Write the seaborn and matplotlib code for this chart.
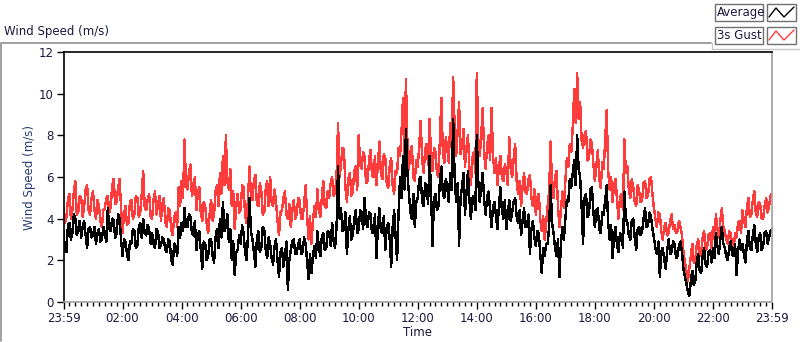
import numpy as np
import pandas as pd
import matplotlib
matplotlib.use("Agg")
import matplotlib.pyplot as plt
import seaborn as sns
from matplotlib.lines import Line2D
from matplotlib.patches import Rectangle

# ---------------- data (3-minute samples, 23:59 -> 23:59) ----------------
gust = [
    4.5, 3.8, 4.1, 4.9, 5.2, 4.0, 4.4, 5.3, 5.8, 4.2, 4.3, 5.1, 5.0, 4.1, 4.6, 5.4, 5.6, 4.4, 4.2, 5.0,
    5.3, 4.4, 4.0, 4.9, 4.6, 3.9, 3.6, 4.4, 4.5, 5.0, 5.1, 4.3, 4.6, 5.6, 5.9, 4.7, 4.8, 5.5, 5.9, 4.5,
    3.3, 4.2, 4.6, 3.7, 3.8, 4.8, 4.9, 4.0, 4.2, 5.1, 5.0, 4.1, 4.3, 5.2, 6.3, 4.6, 4.4, 4.9, 5.2, 4.1,
    4.0, 4.9, 5.3, 4.2, 4.6, 5.1, 3.9, 4.7, 5.0, 3.8, 3.6, 4.5, 4.4, 3.5, 3.2, 4.1, 4.3, 3.6, 5.5, 4.6,
    5.8, 5.0, 7.8, 5.6, 5.4, 6.2, 6.6, 5.1, 5.3, 6.0, 4.4, 5.2, 5.5, 4.3, 3.9, 4.8, 4.6, 3.8, 3.3, 4.2,
    4.9, 3.9, 4.2, 5.3, 5.6, 4.6, 6.2, 5.2, 7.0, 5.6, 8.0, 5.8, 5.4, 6.4, 4.6, 5.3, 3.5, 4.6, 5.2, 4.3,
    4.4, 5.6, 5.5, 4.2, 3.8, 5.0, 6.5, 5.1, 4.9, 5.8, 6.1, 4.7, 4.6, 5.7, 5.3, 4.2, 4.3, 5.4, 5.8, 4.6,
    6.0, 4.8, 4.6, 5.4, 4.8, 3.9, 3.2, 4.3, 4.4, 5.0, 5.3, 4.2, 4.0, 4.7, 3.6, 4.4, 4.9, 4.0, 4.2, 5.0,
    4.9, 4.0, 4.0, 4.7, 5.6, 4.2, 3.0, 4.1, 2.8, 3.9, 4.6, 4.1, 5.4, 4.4, 4.1, 5.0, 5.8, 4.6, 4.5, 5.3,
    5.0, 5.7, 6.0, 5.1, 5.2, 6.1, 8.6, 6.0, 6.6, 7.4, 7.3, 5.5, 4.8, 5.9, 6.2, 5.1, 5.3, 6.3, 6.5, 5.4,
    8.0, 6.6, 6.4, 7.2, 7.0, 5.7, 5.8, 6.8, 7.3, 6.1, 6.0, 7.0, 5.6, 6.6, 7.7, 6.2, 5.9, 7.1, 6.9, 5.7,
    5.5, 6.5, 6.9, 5.6, 5.2, 6.3, 6.2, 7.4, 7.0, 8.2, 9.8, 7.0, 10.7, 7.6, 6.4, 7.2, 7.5, 6.0, 5.8, 6.8,
    6.5, 7.5, 8.7, 6.8, 6.2, 7.3, 7.6, 6.6, 8.8, 7.0, 6.3, 7.4, 7.2, 6.2, 6.0, 7.8, 9.8, 7.2, 6.7, 7.9,
    7.4, 6.7, 8.6, 7.8, 10.8, 8.4, 7.0, 8.2, 9.6, 7.1, 7.5, 8.3, 6.5, 7.4, 8.0, 6.4, 5.6, 6.9, 7.2, 6.2,
    11.0, 7.8, 7.0, 8.0, 9.3, 7.1, 6.4, 7.5, 8.0, 6.8, 9.3, 7.0, 6.2, 6.9, 5.6, 6.5, 7.0, 6.0, 5.8, 6.6,
    6.3, 5.6, 7.9, 6.4, 6.0, 6.9, 7.6, 5.8, 5.2, 5.8, 4.6, 5.5, 6.2, 5.3, 5.2, 5.9, 6.1, 5.0, 4.6, 5.4,
    4.2, 5.0, 5.2, 4.0, 3.4, 4.1, 3.0, 3.8, 4.6, 5.3, 7.7, 5.5, 5.0, 6.0, 6.3, 4.6, 3.6, 4.4, 5.3, 4.5,
    5.8, 6.9, 6.5, 7.6, 7.2, 8.4, 10.2, 8.6, 11.0, 8.8, 9.6, 7.8, 7.4, 8.0, 8.2, 6.8, 6.9, 7.8, 7.6, 6.6,
    5.8, 6.6, 7.3, 5.9, 5.5, 6.7, 6.4, 7.8, 9.2, 6.3, 5.4, 6.0, 4.8, 5.6, 5.9, 4.9, 4.0, 5.0, 5.2, 4.4,
    7.8, 6.2, 6.5, 5.4, 5.0, 5.9, 5.5, 4.8, 4.6, 5.6, 5.3, 4.8, 4.9, 5.7, 5.8, 5.0, 5.1, 5.9, 6.0, 5.2,
    4.5, 4.0, 3.6, 4.3, 4.2, 3.4, 3.0, 3.6, 3.8, 3.2, 3.3, 3.9, 4.2, 3.5, 3.7, 3.3, 3.4, 3.9, 3.6, 3.2,
    2.4, 1.9, 1.5, 1.0, 1.6, 2.2, 2.8, 1.9, 2.0, 2.7, 3.0, 2.2, 2.3, 3.1, 3.4, 2.5, 2.6, 3.2, 3.3, 2.6,
    3.6, 3.0, 4.2, 3.5, 3.1, 3.9, 4.5, 3.6, 3.4, 3.0, 2.8, 3.4, 3.3, 2.7, 2.6, 3.3, 3.1, 3.8, 3.9, 3.3,
    4.4, 3.9, 3.6, 4.5, 5.0, 4.1, 4.2, 4.9, 5.3, 4.3, 4.1, 4.8, 4.7, 4.0, 4.0, 4.6, 5.0, 4.3, 4.6, 5.1, 5.2,
]
average = [
    3.4, 2.5, 2.4, 3.7, 3.8, 3.0, 3.3, 4.2, 4.0, 3.2, 3.5, 3.9, 3.1, 3.6, 3.9, 3.2, 2.6, 3.5, 3.6, 3.1,
    3.2, 3.6, 2.8, 3.3, 3.5, 2.9, 3.0, 3.6, 3.3, 2.9, 4.5, 3.5, 3.4, 4.0, 3.9, 3.1, 3.3, 4.2, 4.0, 3.0,
    2.2, 3.0, 2.9, 2.3, 2.0, 2.9, 2.8, 3.5, 3.4, 2.6, 2.7, 3.6, 3.8, 3.1, 4.0, 3.3, 3.2, 3.7, 3.5, 2.8,
    3.3, 2.8, 2.6, 3.5, 3.4, 2.6, 2.7, 3.1, 3.0, 2.5, 2.4, 3.0, 2.9, 2.0, 1.8, 2.8, 2.7, 2.2, 3.6, 3.1,
    3.8, 3.4, 4.5, 3.6, 3.6, 4.2, 4.1, 3.3, 3.2, 3.9, 2.5, 3.2, 3.4, 2.5, 1.6, 2.9, 2.8, 2.0, 2.2, 3.0,
    3.0, 2.2, 1.9, 3.1, 3.5, 2.6, 4.0, 3.1, 4.8, 3.4, 3.6, 4.2, 2.9, 3.5, 2.0, 2.9, 1.3, 2.4, 2.5, 3.2,
    2.8, 3.7, 3.3, 2.4, 2.0, 3.2, 5.0, 3.4, 3.0, 2.4, 1.7, 3.0, 3.4, 2.4, 2.6, 3.6, 3.5, 2.5, 2.1, 3.1,
    2.8, 2.1, 1.8, 2.7, 3.0, 2.0, 1.2, 2.4, 2.6, 1.7, 2.2, 2.9, 0.6, 2.0, 2.5, 2.9, 3.0, 2.3, 2.3, 2.8,
    3.0, 2.3, 2.4, 3.1, 2.8, 2.0, 1.1, 2.3, 1.4, 2.2, 2.7, 2.1, 3.4, 2.6, 2.2, 3.1, 3.3, 2.5, 2.6, 3.4,
    3.3, 2.7, 3.8, 2.9, 2.6, 3.6, 6.5, 4.0, 4.5, 3.4, 3.5, 4.3, 2.3, 3.5, 4.1, 3.0, 3.2, 4.0, 4.4, 3.3,
    3.5, 4.4, 4.3, 3.5, 5.0, 3.8, 3.6, 4.3, 4.2, 3.3, 3.4, 4.2, 2.1, 3.6, 4.5, 3.4, 3.3, 4.1, 2.5, 3.6,
    3.8, 3.0, 1.7, 3.6, 4.4, 3.1, 2.0, 4.3, 6.0, 5.0, 7.0, 5.4, 8.3, 6.2, 5.2, 4.3, 4.0, 5.2, 3.6, 4.8,
    5.0, 5.9, 6.0, 4.8, 4.6, 5.7, 5.5, 4.7, 7.0, 5.3, 2.7, 4.9, 5.2, 4.4, 4.6, 5.8, 6.5, 5.2, 5.0, 5.9,
    5.5, 4.8, 6.2, 5.4, 8.8, 6.0, 4.8, 5.7, 2.7, 5.0, 5.5, 6.2, 4.2, 5.2, 6.3, 4.9, 4.0, 5.0, 5.1, 4.4,
    8.0, 5.8, 4.8, 5.5, 6.2, 4.9, 4.2, 5.1, 5.3, 4.4, 3.6, 4.6, 4.8, 4.1, 3.5, 4.6, 5.5, 4.4, 4.0, 4.9,
    3.5, 4.2, 4.9, 3.9, 4.3, 4.8, 5.0, 4.1, 3.8, 4.4, 3.2, 3.9, 4.5, 3.6, 3.6, 4.2, 2.3, 3.5, 3.9, 3.1,
    2.7, 3.4, 3.3, 2.3, 1.4, 2.6, 2.2, 2.8, 2.8, 3.6, 5.6, 3.8, 3.3, 2.6, 2.2, 3.0, 1.2, 2.8, 3.6, 3.0,
    4.0, 4.9, 4.8, 5.9, 5.5, 6.2, 6.8, 5.6, 8.0, 6.4, 6.0, 4.6, 2.8, 5.0, 5.2, 4.1, 4.2, 5.4, 5.5, 4.3,
    3.6, 4.4, 4.5, 3.5, 3.3, 4.3, 4.2, 4.9, 5.6, 3.8, 3.0, 3.7, 2.1, 3.2, 3.6, 2.7, 2.4, 3.3, 3.2, 2.6,
    5.3, 4.0, 3.8, 3.2, 3.0, 3.9, 4.0, 3.1, 2.5, 3.5, 3.6, 3.2, 3.4, 4.0, 4.5, 3.6, 3.7, 4.3, 4.1, 3.5,
    3.1, 2.6, 2.3, 2.9, 1.2, 2.4, 2.6, 2.0, 1.6, 2.5, 3.0, 2.3, 2.4, 2.9, 2.8, 2.1, 2.2, 2.7, 2.9, 2.4,
    1.6, 1.2, 0.9, 0.5, 0.3, 1.0, 1.5, 0.8, 1.0, 1.9, 2.3, 1.5, 1.4, 2.2, 2.6, 1.8, 1.7, 2.4, 2.5, 1.9,
    2.6, 2.1, 3.3, 2.7, 2.3, 3.0, 3.6, 2.8, 2.6, 2.2, 2.0, 2.6, 2.9, 2.3, 2.2, 2.8, 1.3, 2.4, 3.0, 2.5,
    2.8, 2.3, 1.9, 2.9, 3.4, 2.6, 2.5, 3.2, 3.7, 2.8, 2.4, 3.1, 3.3, 2.5, 2.7, 3.3, 3.4, 2.8, 3.1, 3.4, 3.5,
]
span_hours = 24.0
xtick_hours = [0, 2, 4, 6, 8, 10, 12, 14, 16, 18, 20, 22, 24]
xtick_labels = ["23:59", "02:00", "04:00", "06:00", "08:00", "10:00", "12:00",
                "14:00", "16:00", "18:00", "20:00", "22:00", "23:59"]
ytick_values = [0, 2, 4, 6, 8, 10, 12]
series_names = ["Average", "3s Gust"]

n = min(len(gust), len(average))
hours = np.linspace(0, span_hours, n)
df = pd.DataFrame({"hours": hours, "gust": gust[:n], "average": average[:n]})

# ---------------- figure ----------------
sns.set_style("white")
plt.rcParams["font.family"] = ["DejaVu Sans"]
W, H = 800, 342
fig = plt.figure(figsize=(W / 100, H / 100), dpi=100)

def fx(px):
    return px / W

def fy(py):
    return 1 - py / H

ax = fig.add_axes([fx(63.5), fy(302), fx(772) - fx(63.5), fy(52) - fy(302)])

RED = "#ff3c3c"
sns.lineplot(data=df, x="hours", y="gust", ax=ax, color=RED, lw=1.0, antialiased=False)
sns.lineplot(data=df, x="hours", y="average", ax=ax, color="black", lw=1.0, antialiased=False)

ax.set_xlim(0, 24)
ax.set_ylim(0, 12)
ax.set_xticks(xtick_hours)
ax.set_xticklabels(xtick_labels)
ax.set_xticks(np.arange(0, 24.01, 0.2), minor=True)
ax.set_yticks(ytick_values)
TXT = "#1a1a40"
ax.tick_params(axis="both", which="major", direction="out", length=5, width=1,
               colors="black", labelcolor=TXT, labelsize=8.5, pad=2)
ax.tick_params(axis="x", which="minor", direction="out", length=3, width=1,
               colors="black", bottom=True)
ax.tick_params(axis="x", which="major", bottom=True)
ax.tick_params(axis="y", which="major", left=True)
ax.set_xlabel("Time", fontsize=8.5, color=TXT, labelpad=1)
ax.set_ylabel("Wind Speed (m/s)", fontsize=8.5, color="#2a3d70", labelpad=2)

for side in ["top", "left"]:
    ax.spines[side].set_color("black")
    ax.spines[side].set_linewidth(1.2)
for side in ["bottom", "right"]:
    ax.spines[side].set_color("#a0a0a0")
    ax.spines[side].set_linewidth(1.2)

# ---------------- outer frame and title ----------------
grey = "#909090"
def fline(xs, ys, **kw):
    fig.add_artist(Line2D([fx(v) for v in xs], [fy(v) for v in ys],
                          transform=fig.transFigure, **kw))

fline([1, 1, 711], [341, 42.5, 42.5], color=grey, lw=1.2)
fline([712, 712, 800], [42.5, 49, 49], color="#c8c8c8", lw=1.0)

fig.text(fx(4), fy(32), "Wind Speed (m/s)", fontsize=8.5, color=TXT, va="center", ha="left")

# ---------------- legend ----------------
def box(x0, y0, x1, y1):
    fig.add_artist(Rectangle((fx(x0), fy(y1)), fx(x1) - fx(x0), fy(y0) - fy(y1),
                             transform=fig.transFigure, fill=True, facecolor="white",
                             edgecolor="#707070", lw=1.0))

legend_colors = ["black", RED]
for i, (name, col) in enumerate(zip(series_names, legend_colors)):
    y0 = 4 + i * 23
    y1 = y0 + 17
    box(715, y0, 763, y1)
    box(767, y0, 796, y1)
    fig.text(fx(717), fy((y0 + y1) / 2), name, fontsize=8.5, color=TXT,
             va="center", ha="left")
    zx = [769, 776, 784, 794]
    zy = [y1 - 4, y0 + 4, y1 - 4, y0 + 3]
    fline(zx, zy, color=col, lw=1.0)

fig.savefig("out.png", dpi=100)
